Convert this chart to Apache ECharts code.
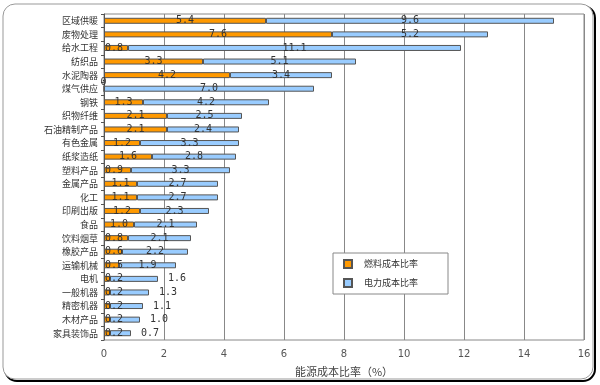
<!DOCTYPE html>
<html><head><meta charset="utf-8">
<script src="https://cdn.jsdelivr.net/npm/echarts@6/dist/echarts.min.js"></script>
<style>html,body{margin:0;padding:0;background:#fff}#c{width:600px;height:385px}</style>
</head><body><div id="c"></div>
<script>
const categories = ['区域供暖','废物处理','给水工程','纺织品','水泥陶器','煤气供应','钢铁','织物纤维','石油精制产品','有色金属','纸浆造纸','塑料产品','金属产品','化工','印刷出版','食品','饮料烟草','橡胶产品','运输机械','电机','一般机器','精密机器','木材产品','家具装饰品'];
const fuel = [5.4,7.6,0.8,3.3,4.2,0,1.3,2.1,2.1,1.2,1.6,0.9,1.1,1.1,1.2,1.0,0.8,0.6,0.5,0.2,0.2,0.2,0.2,0.2];
const power = [9.6,5.2,11.1,5.1,3.4,7.0,4.2,2.5,2.4,3.3,2.8,3.3,2.7,2.7,2.3,2.1,2.1,2.2,1.9,1.6,1.3,1.1,1.0,0.7];
const xTicks = [0,2,4,6,8,10,12,14,16];
const seriesNames = ['燃料成本比率','电力成本比率'];

const chart = echarts.init(document.getElementById('c'), null, {renderer:'canvas'});
const lblFont = {fontFamily:'DejaVu Sans Mono', fontSize:10, color:'#333'};
function fuelItem(v){
  if (v === 0) return {value:v, label:{formatter:'0', position:'insideLeft', distance:0, offset:[-3,-6]}};
  if (v < 1) return {value:v, label:{position:'insideLeft', distance:1}};
  return v;
}
chart.setOption({
  animation:false,
  graphic:[
    {type:'rect', z:-10, shape:{x:5,y:6,width:590,height:375,r:12}, style:{fill:'none',stroke:'#000',lineWidth:2}},
    {type:'rect', z:-9, shape:{x:3,y:4,width:590,height:375,r:12}, style:{fill:'#fff',stroke:'#999',lineWidth:1}}
  ],
  grid:{left:104,right:16,top:14,bottom:45,show:true,borderColor:'#888',borderWidth:1,backgroundColor:'#fff'},
  legend:{
    orient:'vertical', left:333, top:253, width:116, padding:[6,30,6,10], itemGap:9,
    backgroundColor:'#fff', borderColor:'#888', borderWidth:1,
    itemWidth:8, itemHeight:8, icon:'rect',
    textStyle:{fontFamily:'Noto Sans CJK SC', fontSize:9, color:'#333', padding:[0,0,0,7]},
    data:seriesNames
  },
  xAxis:{
    type:'value', min:xTicks[0], max:xTicks[xTicks.length-1], interval:2,
    name:'能源成本比率（%）', nameLocation:'middle', nameGap:26,
    nameTextStyle:{fontFamily:'Noto Sans CJK SC', fontSize:11, color:'#444'},
    axisLine:{show:false}, axisTick:{show:false},
    axisLabel:{fontFamily:'DejaVu Sans', fontSize:10, color:'#555', margin:9},
    splitLine:{lineStyle:{color:'#888',width:1}}
  },
  yAxis:{
    type:'category', data:categories, inverse:true,
    axisLine:{lineStyle:{color:'#555'}},
    axisTick:{show:true, length:3, lineStyle:{color:'#555'}},
    axisLabel:{fontFamily:'Noto Sans CJK SC', fontSize:9, color:'#333', margin:6}
  },
  series:[
    {name:seriesNames[0], type:'bar', stack:'t', barWidth:6,
     itemStyle:{color:'#FF9900', borderColor:'#555', borderWidth:1},
     label:Object.assign({show:true, position:'inside', formatter:p=>p.value.toFixed(1)}, lblFont),
     data:fuel.map(fuelItem)},
    {name:seriesNames[1], type:'bar', stack:'t', barWidth:6,
     itemStyle:{color:'#99CCFF', borderColor:'#555', borderWidth:1},
     label:Object.assign({show:true, position:'inside', formatter:p=>p.value.toFixed(1)}, lblFont),
     data:power.map(v=>v<1.7?{value:v,label:{position:'right',distance:10}}:v)}
  ]
});
</script></body></html>
